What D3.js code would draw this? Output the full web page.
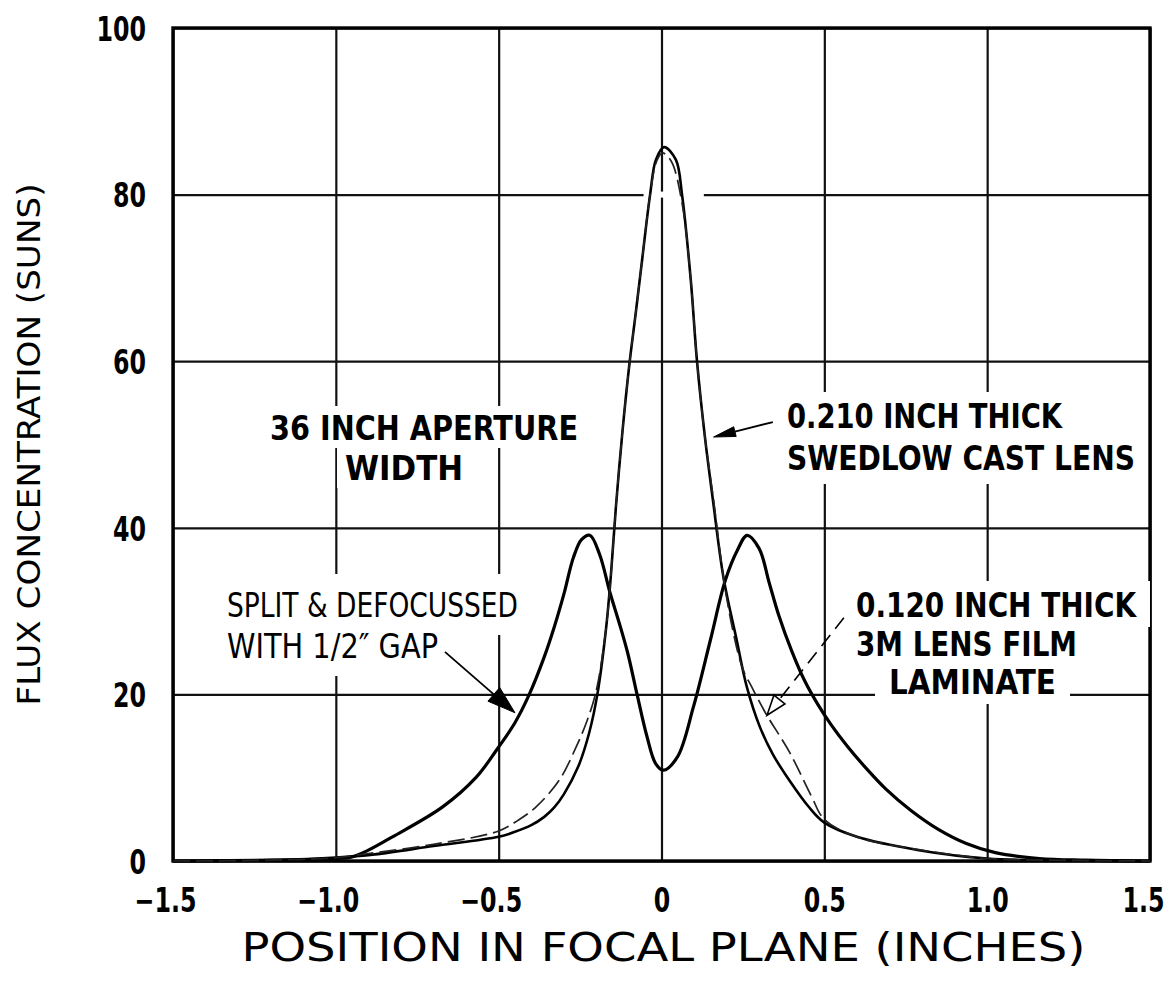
<!DOCTYPE html>
<html><head><meta charset="utf-8">
<script src="https://cdn.jsdelivr.net/npm/d3@7"></script>
<style>
html,body{margin:0;padding:0;background:#fff;}
svg{display:block;}
</style></head><body>
<svg id="chart" width="1176" height="987"></svg>
<script>
// Flux concentration (suns) across the focal plane (inches)

// 0.210 inch thick Swedlow cast lens (solid)
const swedlowX = [-1.5, -1.2, -1.0, -0.88, -0.7, -0.5, -0.45, -0.4, -0.36, -0.33, -0.3, -0.256, -0.222, -0.197, -0.17, -0.155, -0.14, -0.12, -0.099, -0.08, -0.06, -0.035, -0.017, 0.008, 0.044, 0.063, 0.09, 0.109, 0.133, 0.158, 0.19, 0.231, 0.262, 0.302, 0.342, 0.394, 0.45, 0.5, 0.6, 0.79, 1.0, 1.2, 1.5];
const swedlowY = [0, 0.1, 0.4, 0.8, 1.8, 2.9, 3.5, 4.3, 5.3, 6.4, 8.0, 11.3, 15.4, 20.0, 28.0, 34.5, 42.5, 51.5, 59.5, 65.5, 72.0, 80.0, 84.2, 85.7, 84.2, 80.0, 69.7, 60.0, 51.0, 43.3, 34.1, 26.5, 20.9, 16.1, 12.8, 9.6, 6.6, 4.6, 2.9, 1.3, 0.3, 0.1, 0];

// 0.120 inch thick 3M lens film laminate (dashed)
const laminateX = [-1.5, -1.2, -1.0, -0.9, -0.7, -0.5, -0.44, -0.385, -0.314, -0.262, -0.228, -0.2, -0.17, -0.155, -0.14, -0.12, -0.099, -0.08, -0.06, -0.035, -0.015, 0.003, 0.03, 0.063, 0.09, 0.109, 0.133, 0.16, 0.19, 0.22, 0.25, 0.277, 0.319, 0.394, 0.46, 0.5, 0.6, 0.8, 1.0, 1.2, 1.5];
const laminateY = [0, 0.1, 0.4, 0.9, 2.0, 3.6, 4.9, 6.5, 9.7, 13.7, 16.9, 20.5, 28.0, 34.5, 42.5, 51.5, 59.5, 65.5, 72.0, 80.0, 84.0, 85.0, 84.0, 79.0, 69.7, 60.0, 51.0, 43.3, 34.1, 27.5, 23.0, 20.9, 17.8, 13.0, 7.8, 5.0, 2.9, 1.3, 0.3, 0.1, 0];

// Split & defocussed with 1/2" gap (solid, two peaks)
const splitX = [-1.5, -1.2, -1.0, -0.95, -0.9, -0.826, -0.672, -0.568, -0.507, -0.45, -0.406, -0.36, -0.33, -0.3, -0.27, -0.245, -0.22, -0.19, -0.158, -0.13, -0.104, -0.075, -0.045, -0.018, 0.006, 0.049, 0.098, 0.15, 0.196, 0.233, 0.263, 0.3, 0.33, 0.36, 0.4, 0.44, 0.48, 0.52, 0.57, 0.62, 0.69, 0.765, 0.85, 0.936, 1.025, 1.16, 1.3, 1.5];
const splitY = [0, 0.1, 0.3, 0.5, 1.3, 2.9, 6.5, 10.1, 13.3, 16.6, 20.0, 24.5, 28.0, 32.0, 36.5, 38.6, 39.1, 36.8, 32.2, 28.6, 25.0, 20.0, 15.0, 11.7, 10.9, 12.5, 18.5, 26.5, 33.7, 37.3, 39.1, 37.5, 33.5, 29.5, 25.2, 21.6, 18.8, 16.4, 13.8, 11.5, 8.6, 6.1, 3.8, 2.1, 1.0, 0.3, 0.1, 0];

const xTicks = [-1.5, -1.0, -0.5, 0, 0.5, 1.0, 1.5];
const xTickLabels = ["\u22121.5", "\u22121.0", "\u22120.5", "0", "0.5", "1.0", "1.5"];
const yTicks = [0, 20, 40, 60, 80, 100];
const yTickLabels = ["0", "20", "40", "60", "80", "100"];

const xTitle = "POSITION IN FOCAL PLANE  (INCHES)";
const yTitle = "FLUX CONCENTRATION (SUNS)";

const BOLD = "'DejaVu Sans Condensed','Liberation Sans Narrow','Arial Narrow',sans-serif";
const THIN = "'DejaVu Sans Condensed','Liberation Sans Narrow','Arial Narrow',sans-serif";

// width of a numeric label: narrow tall digits
const numWidth = s => Array.from(s).reduce((w, c) => w + (c === "." ? 9 : c === "\u2212" ? 20 : 16.5), 0);

const svg = d3.select("#chart");
const box = {left: 173, top: 28, right: 1150, bottom: 861};
const x = d3.scaleLinear().domain([-1.5, 1.5]).range([box.left, box.right]);
const y = d3.scaleLinear().domain([0, 100]).range([box.bottom, box.top]);

const zip = (xs, ys) => xs.map((v, i) => [v, ys[i]]);
const line = d3.line().x(d => x(d[0])).y(d => y(Math.max(0, d[1])))
  .curve(d3.curveCatmullRom.alpha(0.5));

// grid lines drawn by the axes
const gridX = svg.append("g")
  .attr("transform", `translate(0,${box.bottom})`)
  .call(d3.axisBottom(x).tickValues(xTicks).tickSize(-(box.bottom - box.top)).tickFormat(""));
gridX.select(".domain").remove();
gridX.selectAll("line").attr("stroke", "#111").attr("stroke-width", 2.2);

const gridY = svg.append("g")
  .attr("transform", `translate(${box.left},0)`)
  .call(d3.axisLeft(y).tickValues(yTicks).tickSize(-(box.right - box.left)).tickFormat(""));
gridY.select(".domain").remove();
gridY.selectAll("line").attr("stroke", "#111").attr("stroke-width", 2.2);

// plot frame
svg.append("rect")
  .attr("x", box.left).attr("y", box.top)
  .attr("width", box.right - box.left).attr("height", box.bottom - box.top)
  .attr("fill", "none").attr("stroke", "#000").attr("stroke-width", 3.4);

// tick labels
const xLab = svg.append("g")
  .attr("transform", `translate(0,${box.bottom})`)
  .call(d3.axisBottom(x).tickValues(xTicks).tickSize(0).tickPadding(0)
    .tickFormat((d, i) => xTickLabels[i]));
xLab.select(".domain").remove();
xLab.selectAll("text")
  .attr("y", 51).attr("dy", null)
  .attr("dx", d => d < 0 ? -8 : (d > 1.2 ? -7 : 0))
  .attr("font-family", BOLD).attr("font-weight", "bold")
  .attr("font-size", 33).attr("fill", "#000")
  .attr("textLength", (d, i) => numWidth(xTickLabels[i]))
  .attr("lengthAdjust", "spacingAndGlyphs");

const yLab = svg.append("g")
  .attr("transform", `translate(${box.left},0)`)
  .call(d3.axisLeft(y).tickValues(yTicks).tickSize(0).tickPadding(0)
    .tickFormat((d, i) => yTickLabels[i]));
yLab.select(".domain").remove();
yLab.selectAll("text")
  .attr("x", -27).attr("dy", "0.36em")
  .attr("font-family", BOLD).attr("font-weight", "bold")
  .attr("font-size", 34).attr("fill", "#000")
  .attr("textLength", (d, i) => numWidth(yTickLabels[i]))
  .attr("lengthAdjust", "spacingAndGlyphs");

// axis titles
svg.append("text")
  .attr("x", (box.left + box.right) / 2 + 2).attr("y", 961)
  .attr("text-anchor", "middle")
  .attr("font-family", THIN).attr("font-size", 39)
  .attr("textLength", 844).attr("lengthAdjust", "spacingAndGlyphs")
  .text(xTitle);

svg.append("text")
  .attr("transform", `translate(40,${(box.top + box.bottom) / 2}) rotate(-90)`)
  .attr("text-anchor", "middle")
  .attr("font-family", THIN).attr("font-size", 32)
  .attr("textLength", 522).attr("lengthAdjust", "spacingAndGlyphs")
  .text(yTitle);

// white gaps in the grid behind the labels
const bgLayer = svg.append("g");
const curveLayer = svg.append("g");
const textLayer = svg.append("g");

// grid line break at the peak
bgLayer.append("rect")
  .attr("x", x(-0.055)).attr("width", x(0.13) - x(-0.055))
  .attr("y", y(80) - 3).attr("height", 6).attr("fill", "#fff");

function label(lines, pad) {
  lines.forEach(l => {
    const t = textLayer.append("text")
      .attr("x", l.x).attr("y", l.y)
      .attr("font-family", l.thin ? THIN : BOLD)
      .attr("font-weight", l.thin ? "normal" : "bold")
      .attr("font-size", l.size)
      .attr("textLength", l.w).attr("lengthAdjust", "spacingAndGlyphs")
      .text(l.text);
    const b = t.node().getBBox();
    bgLayer.append("rect")
      .attr("x", l.x - pad[3]).attr("y", b.y - pad[0])
      .attr("width", l.w + pad[1] + pad[3]).attr("height", b.height + pad[0] + pad[2])
      .attr("fill", "#fff");
  });
}

label([
  {text: "36 INCH APERTURE", x: 270, y: 440, w: 308, size: 34},
  {text: "WIDTH", x: 345, y: 480, w: 118, size: 34}
], [2, 8, 0, 8]);

label([
  {text: "0.210 INCH THICK", x: 787, y: 428, w: 275, size: 34},
  {text: "SWEDLOW CAST LENS", x: 787, y: 470, w: 348, size: 34}
], [4, 8, 6, 8]);

label([
  {text: "0.120 INCH THICK", x: 856, y: 617, w: 280, size: 34},
  {text: "3M LENS FILM", x: 856, y: 656, w: 221, size: 34},
  {text: "LAMINATE", x: 889, y: 694, w: 167, size: 34}
], [4, 14, 2, 14]);

label([
  {text: "SPLIT & DEFOCUSSED", x: 227, y: 617, w: 291, size: 33, thin: true},
  {text: "WITH 1/2\u2033 GAP", x: 227, y: 658, w: 211, size: 33, thin: true}
], [12, 8, 10, 8]);

// curves
curveLayer.append("path").datum(zip(splitX, splitY))
  .attr("d", line).attr("fill", "none")
  .attr("stroke", "#000").attr("stroke-width", 3.2).attr("stroke-linejoin", "round");

curveLayer.append("path").datum(zip(swedlowX, swedlowY))
  .attr("d", line).attr("fill", "none")
  .attr("stroke", "#000").attr("stroke-width", 2.6).attr("stroke-linejoin", "round");

curveLayer.append("path").datum(zip(laminateX, laminateY))
  .attr("d", line).attr("fill", "none")
  .attr("stroke", "#222").attr("stroke-width", 1.7)
  .attr("stroke-dasharray", "17 6");

// pointer arrows
function arrow(from, to, opts) {
  const x0 = x(from[0]), y0 = y(from[1]), x1 = x(to[0]), y1 = y(to[1]);
  const a = Math.atan2(y1 - y0, x1 - x0);
  const L = opts.len, Wd = opts.half;
  const bx = x1 - L * Math.cos(a), by = y1 - L * Math.sin(a);
  textLayer.append("line")
    .attr("x1", x0).attr("y1", y0).attr("x2", bx).attr("y2", by)
    .attr("stroke", "#000").attr("stroke-width", opts.sw)
    .attr("stroke-dasharray", opts.dash || null);
  const p = [[x1, y1],
    [bx + Wd * Math.sin(a), by - Wd * Math.cos(a)],
    [bx - Wd * Math.sin(a), by + Wd * Math.cos(a)]];
  textLayer.append("path")
    .attr("d", "M" + p.join("L") + "Z")
    .attr("fill", opts.open ? "#fff" : "#000")
    .attr("stroke", "#000").attr("stroke-width", opts.open ? 1.6 : 1);
}

arrow([-0.665, 25.1], [-0.45, 17.8], {len: 28, half: 9, sw: 1.8});
arrow([0.342, 52.7], [0.16, 50.9], {len: 22, half: 5, sw: 1.8});
arrow([0.56, 29.2], [0.324, 17.5], {len: 20, half: 7, sw: 1.6, dash: "14 8", open: true});
</script>
</body></html>
